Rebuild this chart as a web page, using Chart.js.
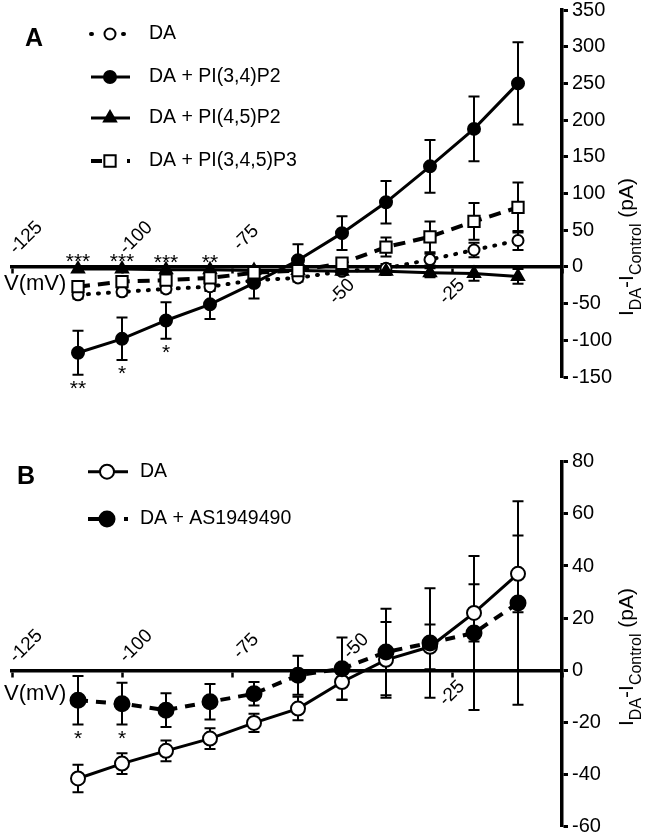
<!DOCTYPE html>
<html>
<head>
<meta charset="utf-8">
<script src="https://cdn.jsdelivr.net/npm/chart.js@4.4.1/dist/chart.umd.min.js"></script>
<style>
  html, body { margin: 0; padding: 0; background: #fff; overflow: hidden; }
  #wrap { position: relative; width: 646px; height: 833px; }
  canvas { position: absolute; left: 0; }
  #chart-a { top: 0; }
  #chart-b { top: 420px; }
</style>
</head>
<body>
<div id="wrap">
  <canvas id="chart-a" width="646" height="400"></canvas>
  <canvas id="chart-b" width="646" height="420"></canvas>
</div>
<script>
const voltage = [-110, -100, -90, -80, -70, -60, -50, -40, -30, -20, -10];
const xTicks = [-125, -100, -75, -50, -25, 0];

// panel A
const aTicks = [-150, -100, -50, 0, 50, 100, 150, 200, 250, 300, 350];
const aDA = [-38, -34, -30, -27, -18, -15, -6, -2, 10, 23, 36];
const aDAerr = [5, 5, 5, 6, 5, 5, 5, 6, 8, 10, 13];
const aPI34 = [-117, -98, -73, -51, -22, 9, 46, 88, 137, 188, 250];
const aPI34err = [30, 29, 25, 20, 21, 22, 23, 29, 36, 44, 56];
const aPI45 = [-3, -3, -4, -4, -5, -5, -6, -6, -8, -9, -13];
const aPI45err = [4, 4, 4, 4, 4, 4, 4, 5, 6, 10, 10];
const aPI345 = [-27, -20, -18, -15, -8, -5, 5, 27, 41, 62, 81];
const aPI345err = [6, 6, 6, 8, 6, 6, 6, 13, 21, 25, 34];
const aSigPI45 = ['***', '***', '***', '**', '', '', '', '', '', '', ''];
const aSigPI34 = ['**', '*', '*', '', '', '', '', '', '', '', ''];
const aLabelSide = ['up', 'up', 'up', 'down', 'down', ''];

// panel B
const bTicks = [-60, -40, -20, 0, 20, 40, 60, 80];
const bDA = [-41.5, -35.8, -30.9, -26.2, -20.2, -14.7, -4.5, 4, 9, 22, 37];
const bDAerr = [5.3, 4, 4, 4, 3.5, 4.5, 6.7, 14.5, 8.6, 11, 14.7];
const bAS = [-11.5, -12.8, -15.3, -12.1, -9, -1.9, 0.6, 7, 10.5, 14.3, 25.8];
const bASerr = [9.3, 8, 6.5, 6.8, 4.5, 7.5, 12, 16.6, 21, 29.5, 39];
const bSigAS = ['*', '*', '', '', '', '', '', '', '', '', ''];
const bLabelSide = ['up', 'up', 'up', 'up', 'down', ''];

const FONT = 'Arial, "Liberation Sans", Helvetica, sans-serif';
Chart.defaults.font.family = FONT;
Chart.defaults.font.size = 19.5;
Chart.defaults.color = '#000';

const pts = vals => vals.map((v, i) => ({ x: voltage[i], y: v }));

const errorBars = {
  id: 'errorBars',
  beforeDatasetsDraw(chart) {
    const { ctx, scales: { x, y } } = chart;
    ctx.save();
    ctx.strokeStyle = '#000';
    ctx.lineWidth = 2;
    chart.data.datasets.forEach(ds => {
      ds.data.forEach((p, i) => {
        const e = ds.errors[i];
        const px = x.getPixelForValue(p.x);
        const top = y.getPixelForValue(p.y + e);
        const bot = y.getPixelForValue(p.y - e);
        ctx.beginPath();
        ctx.moveTo(px, top); ctx.lineTo(px, bot);
        ctx.moveTo(px - 5.5, top); ctx.lineTo(px + 5.5, top);
        ctx.moveTo(px - 5.5, bot); ctx.lineTo(px + 5.5, bot);
        ctx.stroke();
      });
    });
    ctx.restore();
  }
};

const sigMarks = {
  id: 'sigMarks',
  afterDatasetsDraw(chart) {
    const { ctx, scales: { x, y } } = chart;
    ctx.save();
    ctx.fillStyle = '#000';
    ctx.font = '21px ' + FONT;
    ctx.textAlign = 'center';
    ctx.textBaseline = 'alphabetic';
    chart.data.datasets.forEach(ds => {
      ds.data.forEach((p, i) => {
        const px = x.getPixelForValue(p.x);
        if (ds.sigAbove && ds.sigAbove[i]) {
          ctx.fillText(ds.sigAbove[i], px, y.getPixelForValue(p.y + ds.errors[i]) + 2);
        }
        if (ds.sigBelow && ds.sigBelow[i]) {
          ctx.fillText(ds.sigBelow[i], px, y.getPixelForValue(p.y - ds.errors[i]) + 20);
        }
      });
    });
    ctx.restore();
  }
};

// x tick labels sit above or below the zero line, whichever side is clear
const xLabels = {
  id: 'xLabels',
  afterDraw(chart, args, o) {
    const { ctx, scales: { x, y } } = chart;
    const y0 = y.getPixelForValue(0);
    ctx.save();
    ctx.fillStyle = '#000';
    ctx.font = '19px ' + FONT;
    ctx.textAlign = 'center';
    ctx.textBaseline = 'middle';
    xTicks.forEach((v, i) => {
      const side = o.sides[i];
      if (!side) return;
      const up = side === 'up';
      ctx.save();
      ctx.translate(x.getPixelForValue(v) + (up ? 14 : 0), y0 + (up ? o.upDy : o.downDy));
      ctx.rotate(-Math.PI / 4);
      ctx.fillText(String(v), 0, 0);
      ctx.restore();
    });
    ctx.restore();
  }
};

const panelDecor = {
  id: 'panelDecor',
  afterDraw(chart, args, o) {
    const ctx = chart.ctx;
    ctx.save();
    ctx.fillStyle = '#000';
    ctx.textAlign = 'left';
    ctx.textBaseline = 'middle';
    ctx.font = 'bold 25px ' + FONT;
    ctx.fillText(o.letter, o.letterX, o.letterY);

    ctx.font = '22px ' + FONT;
    ctx.fillText('V(mV)', 4, chart.scales.y.getPixelForValue(0) + o.vLabelDy);

    chart.data.datasets.forEach((ds, i) => {
      const ly = o.legendRows[i];
      ctx.save();
      ctx.strokeStyle = '#000';
      ctx.lineWidth = ds.borderWidth;
      ctx.lineCap = ds.borderCapStyle || 'butt';
      ctx.setLineDash(ds.legendDash || []);
      ctx.beginPath();
      ctx.moveTo(o.legendX1, ly);
      ctx.lineTo(o.legendX2, ly);
      ctx.stroke();
      ctx.setLineDash([]);
      ctx.fillStyle = ds.pointBackgroundColor;
      ctx.lineWidth = ds.pointBorderWidth;
      Chart.helpers.drawPoint(ctx, { pointStyle: ds.pointStyle, radius: ds.pointRadius, borderWidth: ds.pointBorderWidth, rotation: 0 }, o.legendMarkX, ly);
      ctx.restore();
      ctx.font = '19.5px ' + FONT;
      ctx.fillText(ds.label, o.legendText, ly);
    });

    // y axis title with subscripts
    const segs = [['I', 21, 0], ['DA', 16, 8], ['-I', 21, 0], ['Control', 16, 8], [' (pA)', 21, 0]];
    let total = 0;
    segs.forEach(s => { ctx.font = s[1] + 'px ' + FONT; total += ctx.measureText(s[0]).width; });
    ctx.translate(o.titleX, o.titleY);
    ctx.rotate(-Math.PI / 2);
    ctx.textBaseline = 'alphabetic';
    let tx = -total / 2;
    segs.forEach(s => {
      ctx.font = s[1] + 'px ' + FONT;
      ctx.fillText(s[0], tx, s[2]);
      tx += ctx.measureText(s[0]).width;
    });
    ctx.restore();
  }
};

function xScale() {
  return {
    type: 'linear', position: { y: 0 }, min: -125, max: 0,
    afterBuildTicks: s => { s.ticks = xTicks.map(v => ({ value: v })); },
    afterFit: s => { s.paddingLeft = 0; s.paddingRight = 0; },
    border: { display: true, color: '#000', width: 3.5 },
    grid: { display: true, drawOnChartArea: false, drawTicks: true, tickLength: 5, tickWidth: 2.5, color: '#000' },
    ticks: { display: false }
  };
}

function yScale(ticks) {
  return {
    type: 'linear', position: 'right', min: ticks[0], max: ticks[ticks.length - 1],
    afterBuildTicks: s => { s.ticks = ticks.map(v => ({ value: v })); },
    afterFit: s => { s.width = 84; s.paddingTop = 0; s.paddingBottom = 0; },
    border: { display: true, color: '#000', width: 3.5 },
    grid: { display: true, drawOnChartArea: false, drawTicks: true, tickLength: 6, tickWidth: 3, color: '#000' },
    ticks: { color: '#000', padding: 4, font: { size: 20 } }
  };
}

function series(label, vals, errs, style) {
  return Object.assign({
    label, data: pts(vals), errors: errs,
    borderColor: '#000', pointBorderColor: '#000', pointBorderWidth: 2,
    tension: 0, fill: false, clip: false
  }, style);
}

new Chart(document.getElementById('chart-a'), {
  type: 'line',
  data: {
    datasets: [
      series('DA', aDA, aDAerr, { pointStyle: 'circle', pointRadius: 5.5, pointBackgroundColor: '#fff',
        borderWidth: 4, borderDash: [1, 9], borderCapStyle: 'round', legendDash: [1, 31], order: 3 }),
      series('DA + PI(3,4)P2', aPI34, aPI34err, { pointStyle: 'circle', pointRadius: 6, pointBackgroundColor: '#000',
        borderWidth: 3, sigBelow: aSigPI34, order: 2 }),
      series('DA + PI(4,5)P2', aPI45, aPI45err, { pointStyle: 'triangle', pointRadius: 7, pointBackgroundColor: '#000',
        borderWidth: 3, sigAbove: aSigPI45, order: 1 }),
      series('DA + PI(3,4,5)P3', aPI345, aPI345err, { pointStyle: 'rect', pointRadius: 8, pointBackgroundColor: '#fff',
        borderWidth: 4, borderDash: [12, 8], legendDash: [11, 25], order: 0 })
    ]
  },
  options: {
    responsive: false, animation: false, devicePixelRatio: 1,
    layout: { padding: { left: 12, top: 10, right: 0, bottom: 23 } },
    scales: { x: xScale(), y: yScale(aTicks) },
    plugins: {
      legend: { display: false }, tooltip: { enabled: false },
      xLabels: { sides: aLabelSide, upDy: -29, downDy: 25 },
      panelDecor: { letter: 'A', letterX: 25, letterY: 39, vLabelDy: 17.5,
        legendRows: [34, 77, 118, 161], legendX1: 91, legendX2: 130, legendMarkX: 110, legendText: 149,
        titleX: 633, titleY: 247 }
    }
  },
  plugins: [errorBars, sigMarks, xLabels, panelDecor]
});

new Chart(document.getElementById('chart-b'), {
  type: 'line',
  data: {
    datasets: [
      series('DA', bDA, bDAerr, { pointStyle: 'circle', pointRadius: 7, pointBackgroundColor: '#fff',
        borderWidth: 3, order: 1 }),
      series('DA + AS1949490', bAS, bASerr, { pointStyle: 'circle', pointRadius: 7.5, pointBackgroundColor: '#000',
        borderWidth: 4, borderDash: [10, 8], legendDash: [12, 24], sigBelow: bSigAS, order: 0 })
    ]
  },
  options: {
    responsive: false, animation: false, devicePixelRatio: 1,
    layout: { padding: { left: 12, top: 41.7, right: 0, bottom: 13.3 } },
    scales: { x: xScale(), y: yScale(bTicks) },
    plugins: {
      legend: { display: false }, tooltip: { enabled: false },
      xLabels: { sides: bLabelSide, upDy: -24, downDy: 23 },
      panelDecor: { letter: 'B', letterX: 17, letterY: 57, vLabelDy: 24,
        legendRows: [51.7, 99], legendX1: 88, legendX2: 128, legendMarkX: 107, legendText: 140,
        titleX: 633, titleY: 237 }
    }
  },
  plugins: [errorBars, sigMarks, xLabels, panelDecor]
});
</script>
</body>
</html>
